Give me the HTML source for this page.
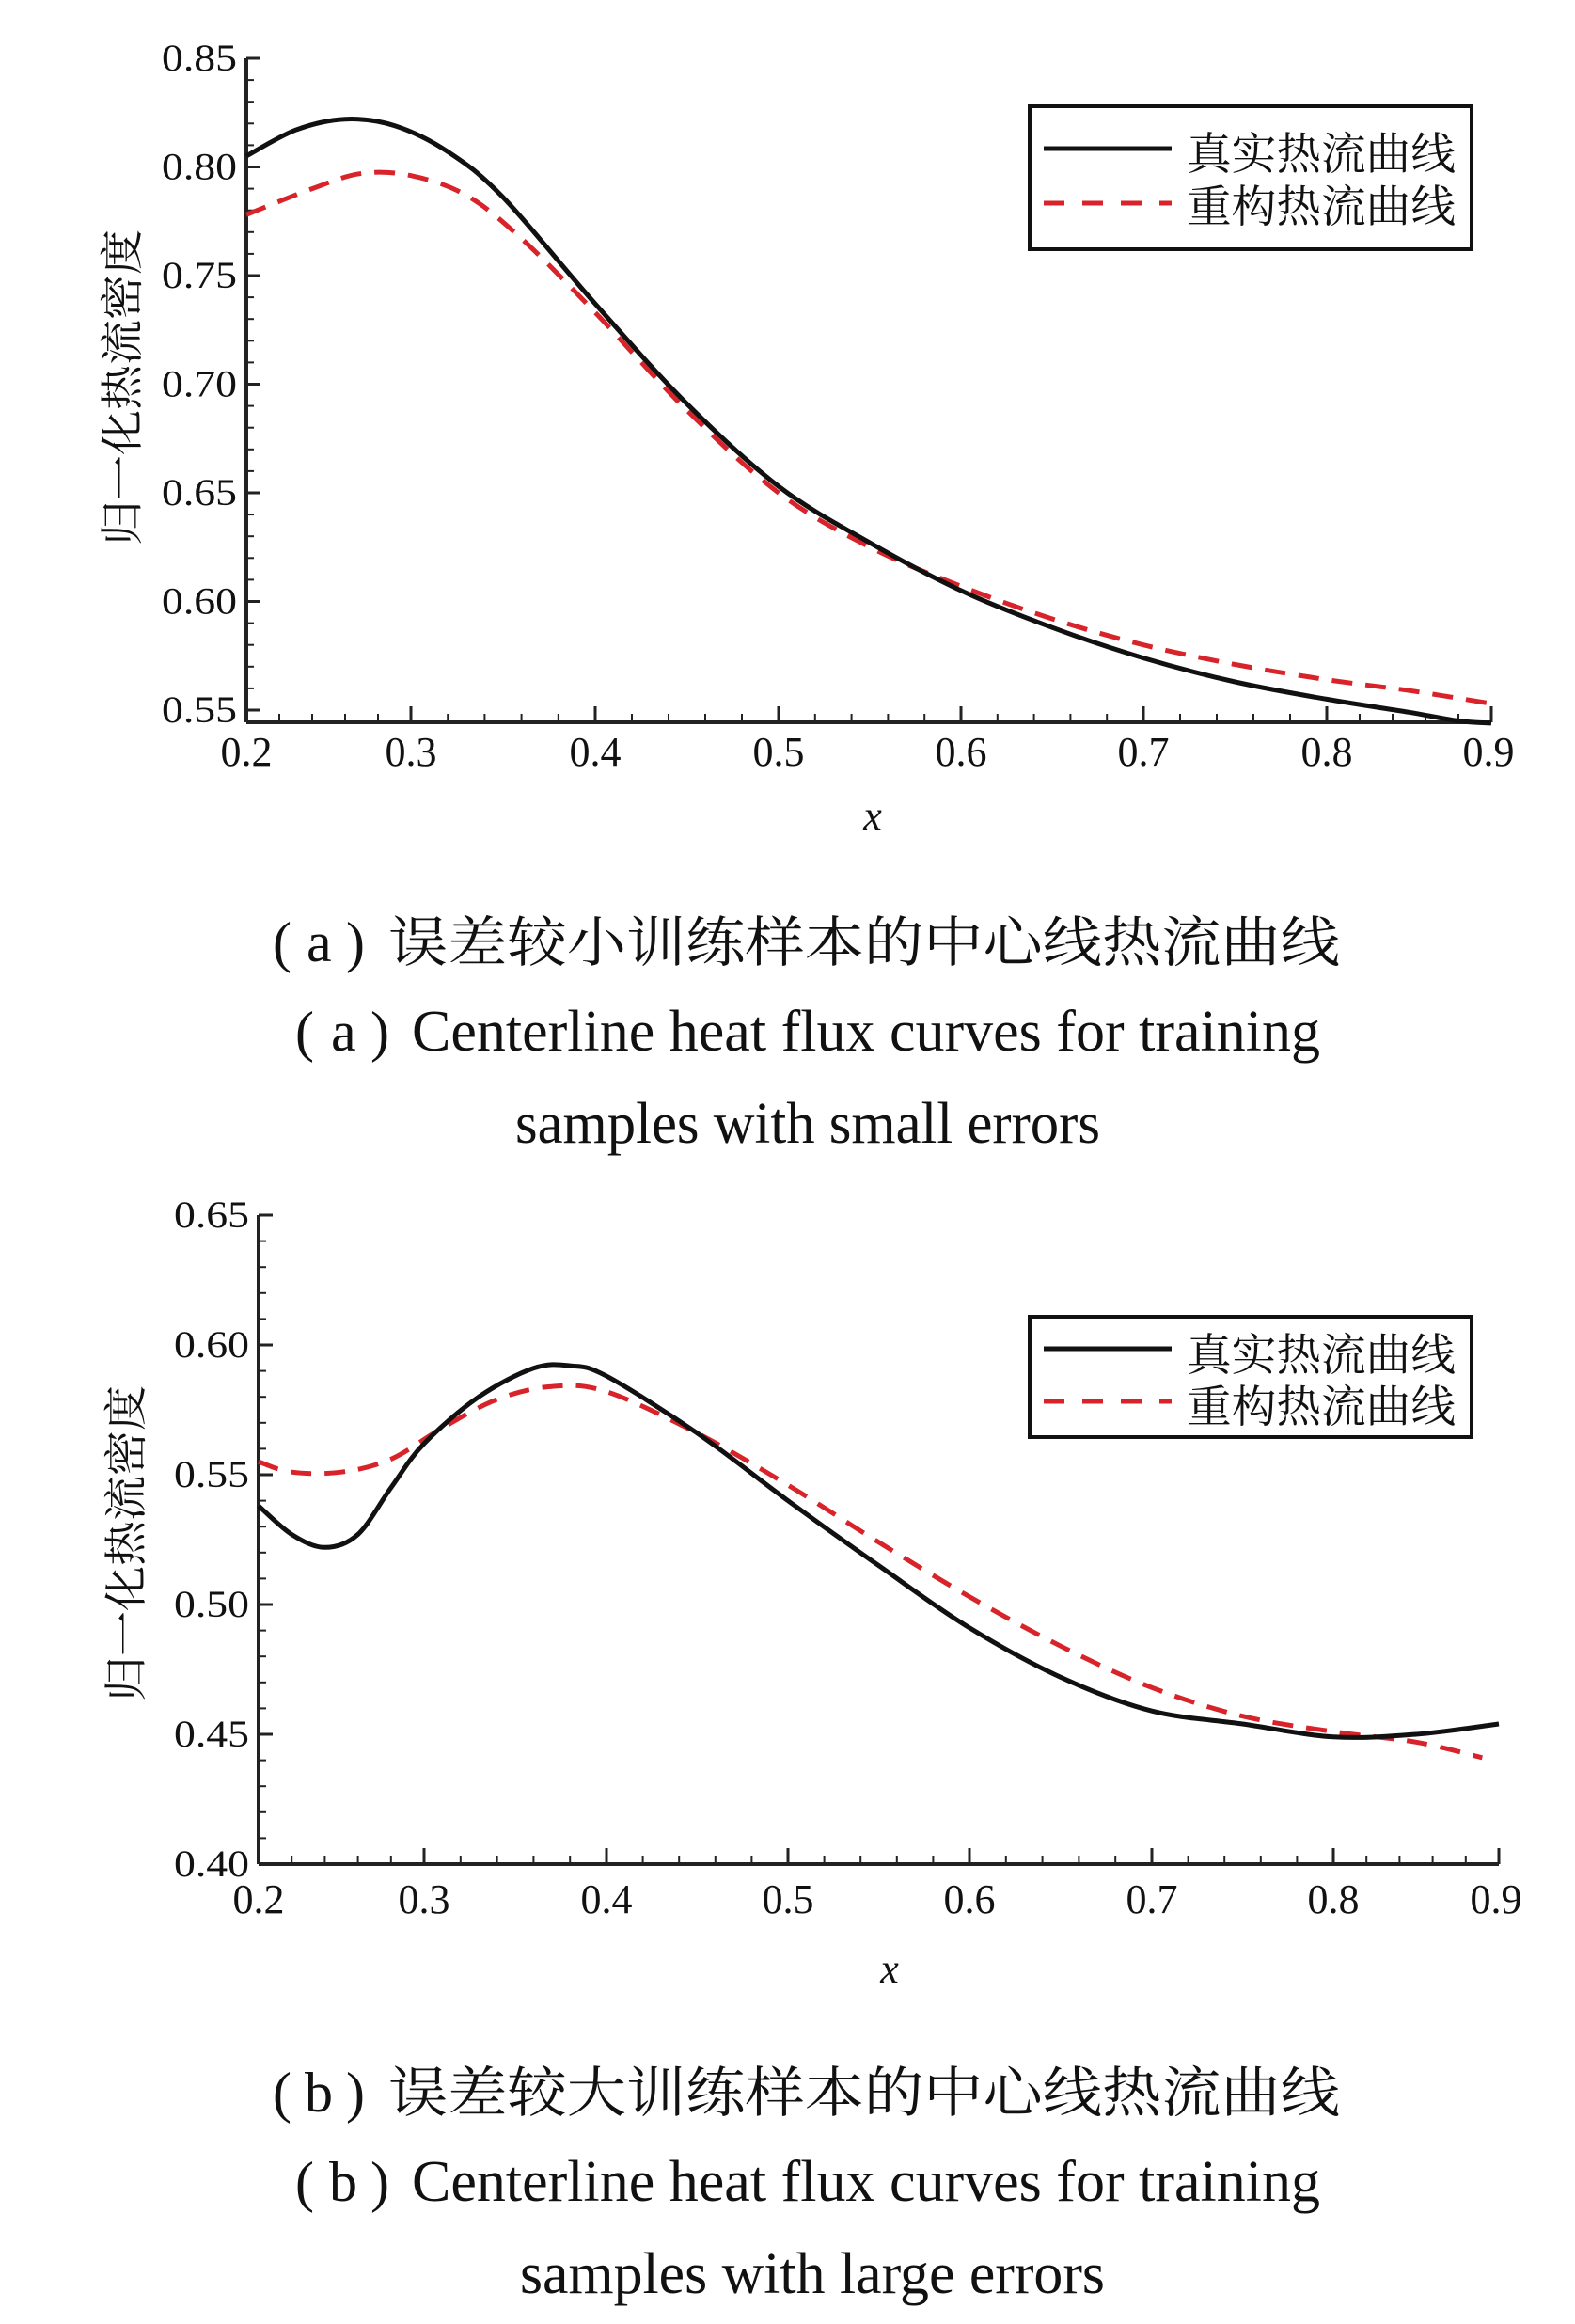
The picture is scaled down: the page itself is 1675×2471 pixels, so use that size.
<!DOCTYPE html>
<html><head><meta charset="utf-8">
<style>
html,body{margin:0;padding:0;background:#fff;}
svg{display:block;}
text{font-family:"Liberation Serif","Noto Serif CJK SC",serif;fill:#111;}
.cjk{font-family:"Liberation Serif","Noto Serif CJK SC","Noto Sans CJK SC",serif;}
</style></head>
<body>
<svg id="s" width="1675" height="2471" viewBox="0 0 1675 2471" xmlns="http://www.w3.org/2000/svg">
<rect width="1675" height="2471" fill="#fff"/>
<g id="g"></g>
<rect x="1095" y="113" width="470" height="152" fill="#fff" stroke="#111" stroke-width="4"/>
<line x1="1110" y1="158" x2="1246" y2="158" stroke="#111" stroke-width="5"/>
<line x1="1110" y1="216" x2="1246" y2="216" stroke="#d8232a" stroke-width="5" stroke-dasharray="22 19"/>
<text class="cjk" x="1262" y="180" font-size="47" textLength="286" lengthAdjust="spacingAndGlyphs">真实热流曲线</text>
<text class="cjk" x="1262" y="236" font-size="47" textLength="286" lengthAdjust="spacingAndGlyphs">重构热流曲线</text>

<rect x="1095" y="1400" width="470" height="128" fill="#fff" stroke="#111" stroke-width="4"/>
<line x1="1110" y1="1434" x2="1246" y2="1434" stroke="#111" stroke-width="5"/>
<line x1="1110" y1="1490" x2="1246" y2="1490" stroke="#d8232a" stroke-width="5" stroke-dasharray="22 19"/>
<text class="cjk" x="1262" y="1457" font-size="47" textLength="286" lengthAdjust="spacingAndGlyphs">真实热流曲线</text>
<text class="cjk" x="1262" y="1512" font-size="47" textLength="286" lengthAdjust="spacingAndGlyphs">重构热流曲线</text>

<text class="cjk" transform="translate(146,412) rotate(-90)" text-anchor="middle" font-size="46" textLength="336" lengthAdjust="spacingAndGlyphs">归一化热流密度</text>
<text class="cjk" transform="translate(150,1641) rotate(-90)" text-anchor="middle" font-size="46" textLength="336" lengthAdjust="spacingAndGlyphs">归一化热流密度</text>
<text x="928" y="882" font-size="44" font-style="italic" text-anchor="middle">x</text>
<text x="946" y="2108" font-size="44" font-style="italic" text-anchor="middle">x</text>

<text x="290" y="1022" font-size="60">(</text>
<text x="326" y="1022" font-size="60">a</text>
<text x="368" y="1022" font-size="60">)</text>
<text class="cjk" x="413" y="1022" font-size="58" textLength="1012" lengthAdjust="spacingAndGlyphs">误差较小训练样本的中心线热流曲线</text>
<text x="314" y="1117" font-size="60">(</text>
<text x="352" y="1117" font-size="60">a</text>
<text x="394" y="1117" font-size="60">)</text>
<text x="438" y="1117" font-size="62" textLength="966" lengthAdjust="spacingAndGlyphs">Centerline heat flux curves for training</text>
<text x="548" y="1215" font-size="62" textLength="622" lengthAdjust="spacingAndGlyphs">samples with small errors</text>

<text x="290" y="2245" font-size="60">(</text>
<text x="324" y="2245" font-size="60">b</text>
<text x="368" y="2245" font-size="60">)</text>
<text class="cjk" x="413" y="2245" font-size="58" textLength="1012" lengthAdjust="spacingAndGlyphs">误差较大训练样本的中心线热流曲线</text>
<text x="314" y="2340" font-size="60">(</text>
<text x="350" y="2340" font-size="60">b</text>
<text x="394" y="2340" font-size="60">)</text>
<text x="438" y="2340" font-size="62" textLength="966" lengthAdjust="spacingAndGlyphs">Centerline heat flux curves for training</text>
<text x="553" y="2438" font-size="62" textLength="622" lengthAdjust="spacingAndGlyphs">samples with large errors</text>
</svg>
<script>
(function(){
var NS="http://www.w3.org/2000/svg",g=document.getElementById('g');
function el(t,a,txt){var e=document.createElementNS(NS,t);for(var k in a)e.setAttribute(k,a[k]);if(txt!=null)e.textContent=txt;g.appendChild(e);return e;}
function mk(cfg){
  var kx=cfg.kx;
  function X(x){for(var i=0;i<kx.length-1;i++){if(x<=kx[i+1][0]+1e-9){var a=kx[i],b=kx[i+1];return a[1]+(x-a[0])/(b[0]-a[0])*(b[1]-a[1]);}}return kx[kx.length-1][1];}
  function Y(y){return cfg.y0px+(cfg.y0-y)/0.05*cfg.ysp;}
  var ax=cfg.axisY, lx=kx[0][1], rx=kx[kx.length-1][1];
  el('line',{x1:lx,y1:Y(cfg.ytop),x2:lx,y2:ax,stroke:'#222','stroke-width':4});
  el('line',{x1:lx,y1:ax,x2:rx,y2:ax,stroke:'#222','stroke-width':4});
  for(var i=1;i<=35;i++){var x=0.2+i*0.02;var p=X(x);var maj=(i%5==0);
    el('line',{x1:p,y1:ax,x2:p,y2:ax-(maj?17:9),stroke:'#222','stroke-width':maj?3:2});}
  for(var i=0;i<=7;i++){var x=0.2+i*0.1;el('text',{x:X(x)+(i==7?-3:0),y:cfg.xlab,'font-size':44,'text-anchor':'middle',textLength:55,lengthAdjust:'spacingAndGlyphs'},x.toFixed(1));}
  var n=Math.round((cfg.ytop-cfg.ybot)/0.01);
  for(var i=0;i<=n;i++){var y=cfg.ytop-i*0.01;var p=Y(y);var maj=(i%5==0);
    el('line',{x1:lx,y1:p,x2:lx+(maj?15:8),y2:p,stroke:'#222','stroke-width':maj?3:2});
    if(maj)el('text',{x:lx-10,y:p+13,'font-size':40,'text-anchor':'end',textLength:80,lengthAdjust:'spacingAndGlyphs'},y.toFixed(2));}
  function path(d,col,dash){
    var pts=d.map(function(q){return [X(q[0]),Y(q[1])];});
    var s='M'+pts[0][0].toFixed(1)+','+pts[0][1].toFixed(1);
    for(var i=0;i<pts.length-1;i++){var p0=pts[i-1]||pts[i],p1=pts[i],p2=pts[i+1],p3=pts[i+2]||p2;
      var c1=[p1[0]+(p2[0]-p0[0])/6,p1[1]+(p2[1]-p0[1])/6],c2=[p2[0]-(p3[0]-p1[0])/6,p2[1]-(p3[1]-p1[1])/6];
      s+='C'+c1[0].toFixed(1)+','+c1[1].toFixed(1)+' '+c2[0].toFixed(1)+','+c2[1].toFixed(1)+' '+p2[0].toFixed(1)+','+p2[1].toFixed(1);}
    var a={d:s,fill:'none',stroke:col,'stroke-width':5,'stroke-linejoin':'round'};
    if(dash)a['stroke-dasharray']='22 14';
    el('path',a);
  }
  path(cfg.rec,'#d8232a',true);
  path(cfg.tru,'#111',false);
}
mk({kx:[[0.2,262],[0.3,437],[0.4,633],[0.5,828],[0.6,1022],[0.7,1216],[0.8,1411],[0.9,1586]],
  y0:0.85,y0px:62,ysp:115.5,ytop:0.85,ybot:0.55,axisY:768,xlab:814,
  tru:[[0.2,0.805],[0.23,0.817],[0.26,0.822],[0.29,0.819],[0.32,0.807],[0.35,0.786],[0.4,0.737],[0.45,0.691],[0.5,0.653],[0.55,0.627],[0.6,0.605],[0.65,0.588],[0.7,0.574],[0.75,0.563],[0.8,0.555],[0.85,0.549],[0.88,0.545],[0.9,0.544]],
  rec:[[0.2,0.778],[0.24,0.790],[0.27,0.797],[0.3,0.796],[0.33,0.787],[0.36,0.767],[0.4,0.733],[0.45,0.688],[0.5,0.650],[0.55,0.625],[0.6,0.607],[0.65,0.592],[0.7,0.580],[0.75,0.571],[0.8,0.564],[0.85,0.559],[0.9,0.553]]});
mk({kx:[[0.2,275],[0.3,451],[0.4,645],[0.5,838],[0.6,1031],[0.7,1225],[0.8,1418],[0.9,1594]],
  y0:0.65,y0px:1292,ysp:138,ytop:0.65,ybot:0.40,axisY:1982,xlab:2034,
  tru:[[0.2,0.538],[0.22,0.527],[0.24,0.522],[0.26,0.527],[0.28,0.545],[0.3,0.562],[0.33,0.580],[0.36,0.591],[0.38,0.592],[0.4,0.588],[0.45,0.566],[0.5,0.540],[0.55,0.515],[0.6,0.491],[0.65,0.472],[0.7,0.459],[0.75,0.454],[0.8,0.449],[0.85,0.450],[0.9,0.454]],
  rec:[[0.2,0.555],[0.22,0.551],[0.25,0.551],[0.28,0.556],[0.31,0.568],[0.34,0.579],[0.37,0.584],[0.4,0.582],[0.45,0.566],[0.5,0.546],[0.55,0.524],[0.6,0.503],[0.65,0.484],[0.7,0.468],[0.75,0.457],[0.8,0.451],[0.85,0.447],[0.89,0.441]]});
})();
</script>
</body></html>
